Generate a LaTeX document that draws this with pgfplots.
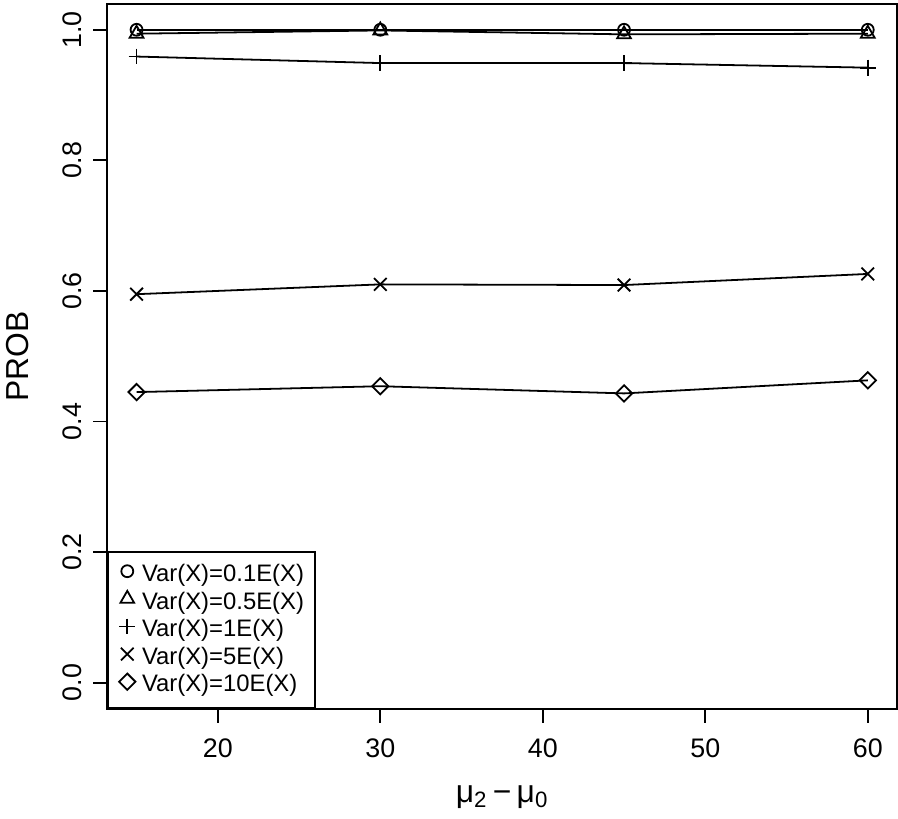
\documentclass[border=0pt]{standalone}
\usepackage{fontspec}
\setmainfont{Liberation Sans}
\usepackage{pgfplots}
\pgfplotsset{compat=1.18}

\begin{document}
\begin{tikzpicture}
\begin{axis}[
    scale only axis,
    width=397.4pt, height=354.8pt,
    xmin=13.2, xmax=61.8,
    ymin=-0.04, ymax=1.04,
    axis line style={line width=0.9pt},
    xtick={20,30,40,50,60},
    ytick={0,0.2,0.4,0.6,0.8,1.0},
    xtick pos=bottom, ytick pos=left,
    tick align=outside,
    major tick length=7pt,
    tick style={line width=0.9pt, black},
    /pgf/number format/assume math mode=true,
    xticklabel shift=17.5pt,
    yticklabel shift=6pt,
    ticklabel style={font=\fontsize{13.5}{16}\selectfont},
    yticklabel style={rotate=90, anchor=base,
        /pgf/number format/.cd, fixed, fixed zerofill, precision=1},
    xticklabel style={anchor=base},
    xlabel={μ\textsubscript{2}\,−\,μ\textsubscript{0}},
    ylabel={PROB},
    xlabel style={at={(axis description cs:0.5,0)}, anchor=base, yshift=-47pt,
        font=\fontsize{16}{18}\selectfont},
    ylabel style={at={([xshift=-39.5pt]axis description cs:0,0.5)}, anchor=base,
        font=\fontsize{16}{18}\selectfont},
    every axis plot/.append style={black, line width=0.9pt, mark options={solid}},
    legend cell align=left,
    legend image code/.code={\draw[#1] plot[only marks] coordinates {(0pt,1.7pt)};},
    legend style={at={(0,0)}, anchor=south west, draw=black, line width=0.9pt,
        fill=white, inner xsep=5.5pt, inner ysep=4.5pt, row sep=0pt,
        font=\fontsize{12}{14}\selectfont,
        nodes={inner sep=0pt, text height=10.4pt, text depth=3.5pt}},
]
\addplot[mark=o, mark size=3pt] coordinates {(15,1.000) (30,1.000) (45,1.000) (60,1.000)};
\addlegendentry{\ Var(X)=0.1E(X)}
\addplot[mark=triangle, mark size=4pt] coordinates {(15,0.994) (30,0.999) (45,0.993) (60,0.994)};
\addlegendentry{\ Var(X)=0.5E(X)}
\addplot[mark=+, mark size=4pt] coordinates {(15,0.959) (30,0.949) (45,0.949) (60,0.942)};
\addlegendentry{\ Var(X)=1E(X)}
\addplot[mark=x, mark size=4.5pt] coordinates {(15,0.595) (30,0.610) (45,0.609) (60,0.626)};
\addlegendentry{\ Var(X)=5E(X)}
\addplot[mark=square, mark size=2.9pt, mark options={rotate=45}] coordinates {(15,0.445) (30,0.454) (45,0.443) (60,0.463)};
\addlegendentry{\ Var(X)=10E(X)}
\end{axis}
\path (current axis.south west) ++(-51.3pt,-55.35pt);
\path (current axis.north east) ++(0.5pt,1.85pt);
\end{tikzpicture}
\end{document}
